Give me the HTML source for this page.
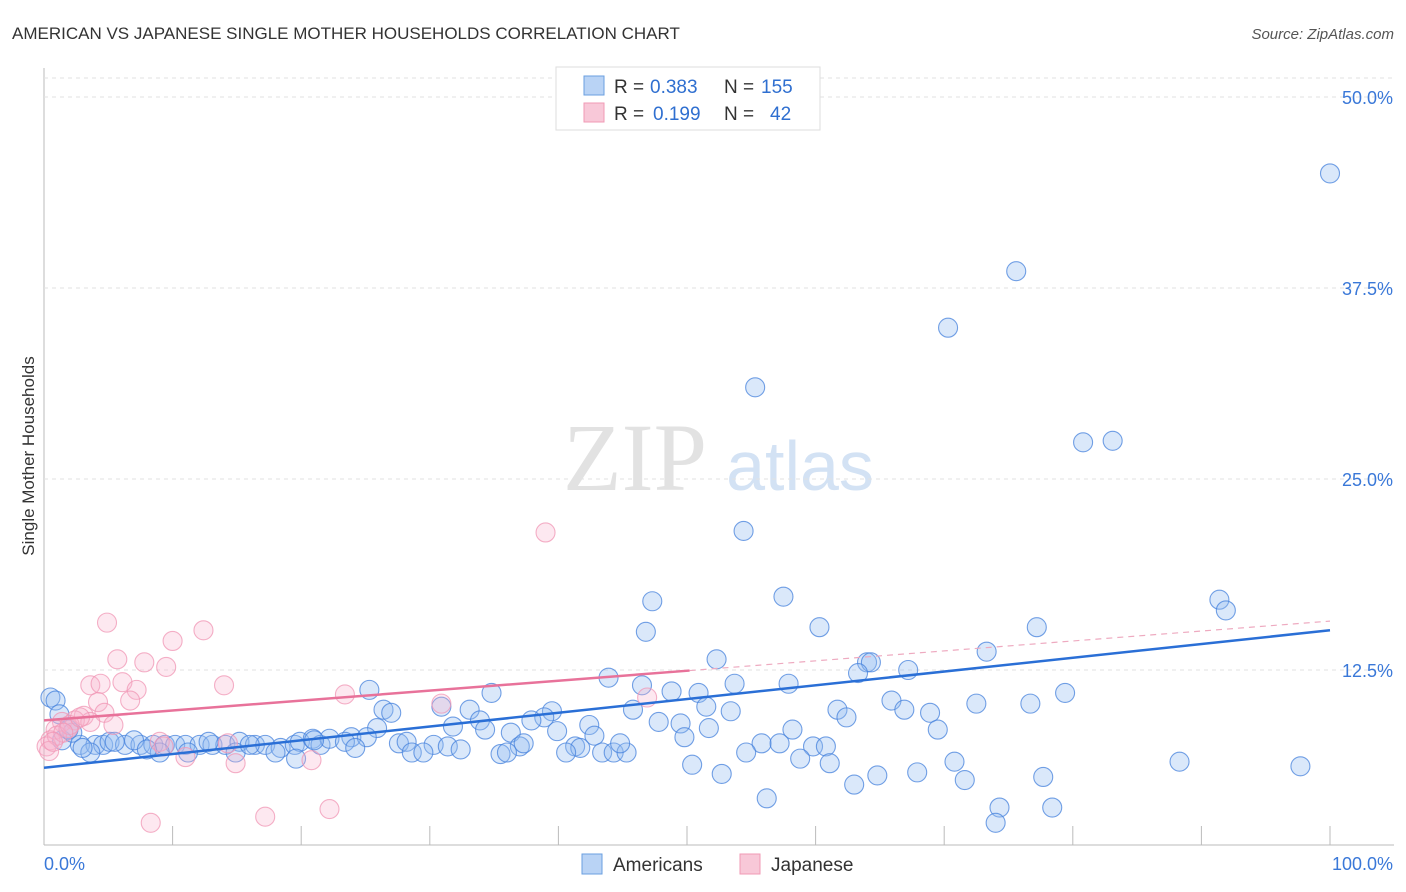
<!DOCTYPE html>
<html><head><meta charset="utf-8"><style>
body{margin:0;background:#fff;font-family:"Liberation Sans",sans-serif;}
svg{display:block}
</style></head><body>
<svg id="chart" width="1406" height="892">
<text x="12" y="39" font-size="17" fill="#333">AMERICAN VS JAPANESE SINGLE MOTHER HOUSEHOLDS CORRELATION CHART</text>
<text x="1394" y="39" font-size="15" fill="#555" font-style="italic" text-anchor="end">Source: ZipAtlas.com</text>
<text x="34" y="456" font-size="17" fill="#333" text-anchor="middle" transform="rotate(-90 34 456)">Single Mother Households</text>
<g><text x="635" y="490" font-size="96" fill="#e2e2e2" font-family="Liberation Serif,serif" text-anchor="middle">ZIP</text><text x="800" y="490" font-size="70" fill="#d3e2f4" text-anchor="middle">atlas</text></g>
<g id="grid"></g><g id="marks"></g>
<g>
<rect x="556" y="67" width="264" height="63" fill="#fff" stroke="#ddd"/>
<rect x="584" y="76" width="20" height="19" fill="#b9d3f5" stroke="#6a9fe0"/>
<rect x="584" y="103" width="20" height="19" fill="#f8c8d8" stroke="#f09ab5"/>
<text x="614" y="93" font-size="19" fill="#333">R =</text><text x="650" y="93" font-size="19" fill="#2f6fd0">0.383</text>
<text x="724" y="93" font-size="19" fill="#333">N =</text><text x="761" y="93" font-size="19" fill="#2f6fd0">155</text>
<text x="614" y="120" font-size="19" fill="#333">R =</text><text x="653" y="120" font-size="19" fill="#2f6fd0">0.199</text>
<text x="724" y="120" font-size="19" fill="#333">N =</text><text x="770" y="120" font-size="19" fill="#2f6fd0">42</text>
</g>
<g>
<rect x="582" y="854" width="20" height="20" fill="#b9d3f5" stroke="#6a9fe0"/>
<text x="613" y="871" font-size="19" fill="#333">Americans</text>
<rect x="740" y="854" width="20" height="20" fill="#f8c8d8" stroke="#f09ab5"/>
<text x="771" y="871" font-size="19" fill="#333">Japanese</text>
</g>
</svg>
<script>
const yTicks=[12.5,25,37.5,50];
const yTickLabels=["12.5%","25.0%","37.5%","50.0%"];
const xTicks=[0,10,20,30,40,50,60,70,80,90,100];
const blueX=[100,75.6,70.3,55.3,80.8,83.1,54.4,47.3,57.5,91.4,91.9,46.8,60.3,77.2,52.3,73.3,64.0,64.3,63.3,67.2,43.9,46.5,53.7,57.9,25.3,34.8,48.8,50.9,79.4,65.9,51.5,72.5,76.7,61.7,66.9,45.8,53.4,26.4,27.0,30.9,33.1,68.9,62.4,39.5,38.9,37.9,47.8,49.5,51.7,58.2,69.5,25.9,31.8,33.9,34.3,42.4,36.3,39.9,49.8,42.8,23.9,25.1,27.6,28.2,30.3,31.4,32.4,37.0,37.3,41.3,41.7,40.6,43.4,44.3,45.3,44.8,28.6,29.5,35.5,36.0,55.8,57.2,54.6,59.8,60.8,58.8,61.1,70.8,88.3,50.4,52.7,64.8,67.9,77.7,97.7,71.6,63.0,56.2,74.3,78.4,74.0,0.5,0.9,1.2,1.4,2.8,4.0,4.6,5.1,6.3,7.5,8.5,9.4,10.2,11.0,12.1,13.1,14.1,15.2,16.4,17.2,18.4,19.5,19.9,20.9,21.5,22.2,23.4,24.2,3.6,9.0,11.2,14.9,18.0,19.6,2.2,1.9,3.0,5.5,7.0,8.0,12.8,16.0,21.0];
const blueY=[45.0,38.6,34.9,31.0,27.4,27.5,21.6,17.0,17.3,17.1,16.4,15.0,15.3,15.3,13.2,13.7,13.0,13.0,12.3,12.5,12.0,11.5,11.6,11.6,11.2,11.0,11.1,11.0,11.0,10.5,10.1,10.3,10.3,9.9,9.9,9.9,9.8,9.9,9.7,10.1,9.9,9.7,9.4,9.8,9.4,9.2,9.1,9.0,8.7,8.6,8.6,8.7,8.8,9.2,8.6,8.9,8.4,8.5,8.1,8.2,8.1,8.1,7.7,7.8,7.6,7.5,7.3,7.5,7.7,7.5,7.4,7.1,7.1,7.1,7.1,7.7,7.1,7.1,7.0,7.1,7.7,7.7,7.1,7.5,7.5,6.7,6.4,6.5,6.5,6.3,5.7,5.6,5.8,5.5,6.2,5.3,5.0,4.1,3.5,3.5,2.5,10.7,10.5,9.6,7.9,7.6,7.6,7.6,7.8,7.6,7.6,7.6,7.6,7.6,7.6,7.6,7.6,7.6,7.8,7.6,7.6,7.4,7.6,7.8,8.0,7.6,8.0,7.8,7.4,7.1,7.1,7.1,7.1,7.1,6.7,8.4,8.6,7.4,7.8,7.9,7.3,7.8,7.6,7.9];
const pinkX=[39.0,4.9,12.4,10.0,5.7,7.8,9.5,3.6,4.4,6.1,7.2,14.0,23.4,4.2,6.7,30.9,46.9,4.7,3.1,1.4,2.4,3.6,5.4,0.9,1.9,0.5,0.2,9.0,14.3,11.0,14.9,20.8,22.2,17.2,8.3,1.0,2.0,2.8,0.4,1.5,9.3,0.7];
const pinkY=[21.5,15.6,15.1,14.4,13.2,13.0,12.7,11.5,11.6,11.7,11.2,11.5,10.9,10.4,10.5,10.3,10.7,9.7,9.5,9.1,9.2,9.1,8.9,8.6,8.7,7.9,7.5,7.8,7.7,6.8,6.4,6.6,3.4,2.9,2.5,8.2,8.9,9.4,7.2,8.4,7.5,7.8];
const blueTrend=[6.1,15.1];
const pinkTrend=[9.2,15.7];
const pinkSolidEnd=50.2;
const X=v=>44+v*12.86, Y=v=>861-v*15.28;
const NS="http://www.w3.org/2000/svg";
const grid=document.getElementById('grid'), marks=document.getElementById('marks');
function mk(tag,attrs,parent){const e=document.createElementNS(NS,tag);for(const k in attrs)e.setAttribute(k,attrs[k]);parent.appendChild(e);return e;}
let ax=mk('line',{x1:44,y1:68,x2:44,y2:845,stroke:'#bbb'},grid);


let bx=mk('line',{x1:44,y1:845,x2:1394,y2:845,stroke:'#bbb'},grid);


let tg=mk('line',{x1:44,y1:78,x2:1394,y2:78,stroke:'#e2e2e2','stroke-dasharray':'4 4'},grid);


yTicks.forEach((t,i)=>{
 const g=mk('line',{x1:44,y1:Y(t),x2:1394,y2:Y(t),stroke:'#e2e2e2','stroke-dasharray':'4 4'},grid);
 
 
 const l=mk('text',{x:1393,y:Y(t)+7,'font-size':18,fill:'#3a78d8','text-anchor':'end'},grid);
 l.textContent=yTickLabels[i];
 
 
});
xTicks.forEach(t=>{
 const l=mk('line',{x1:X(t),y1:826,x2:X(t),y2:845,stroke:'#bbb'},grid);
 
 
});
let x0=mk('text',{x:44,y:870,'font-size':18,fill:'#3a78d8'},grid);x0.textContent='0.0%';


let x1=mk('text',{x:1393,y:870,'font-size':18,fill:'#3a78d8','text-anchor':'end'},grid);x1.textContent='100.0%';


blueX.forEach((v,i)=>{
 const c=mk('circle',{cx:X(v),cy:Y(blueY[i]),r:9.5,fill:'rgba(150,190,240,0.35)',stroke:'rgba(70,130,220,0.75)','stroke-width':1.1},marks);
 
 
});
pinkX.forEach((v,i)=>{
 const c=mk('circle',{cx:X(v),cy:Y(pinkY[i]),r:9.5,fill:'rgba(248,180,205,0.3)',stroke:'rgba(240,150,180,0.75)','stroke-width':1.1},marks);
 
 
});
const pAt=x=>pinkTrend[0]+(pinkTrend[1]-pinkTrend[0])*x/100;
let bt=mk('line',{x1:X(0),y1:Y(blueTrend[0]),x2:X(100),y2:Y(blueTrend[1]),stroke:'#2a6fd6','stroke-width':2.5},marks);


let pt=mk('line',{x1:X(0),y1:Y(pAt(0)),x2:X(pinkSolidEnd),y2:Y(pAt(pinkSolidEnd)),stroke:'#e8729a','stroke-width':2.5},marks);


let pd=mk('line',{x1:X(pinkSolidEnd),y1:Y(pAt(pinkSolidEnd)),x2:X(100),y2:Y(pAt(100)),stroke:'#eeaac0','stroke-width':1.2,'stroke-dasharray':'6 5'},marks);


</script>
</body></html>
